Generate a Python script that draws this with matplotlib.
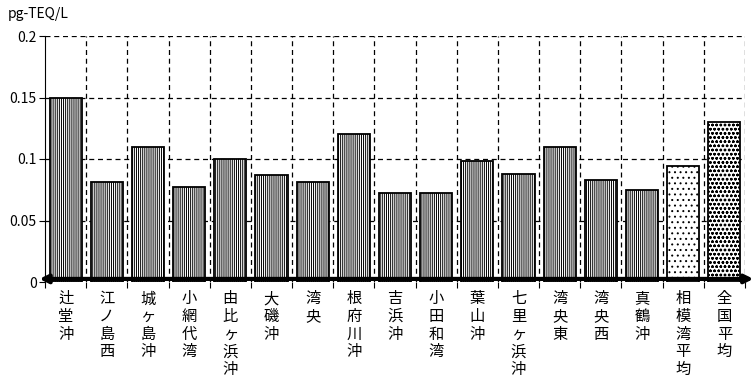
import matplotlib.pyplot as plt
import matplotlib as mpl

plt.rcParams['font.family'] = ['Noto Sans CJK JP', 'DejaVu Sans']
mpl.rcParams['hatch.linewidth'] = 0.7

# data
sites = ['辻堂沖', '江ノ島西', '城ヶ島沖', '小網代湾', '由比ヶ浜沖', '大磯沖', '湾央',
         '根府川沖', '吉浜沖', '小田和湾', '葉山沖', '七里ヶ浜沖', '湾央東', '湾央西',
         '真鶴沖', '相模湾平均', '全国平均']
values = [0.15, 0.081, 0.11, 0.077, 0.1, 0.087, 0.081, 0.12, 0.072, 0.072,
          0.098, 0.088, 0.11, 0.083, 0.075, 0.094, 0.13]
hatches = ['||||||||'] * 15 + ['...', 'oooo']

fig = plt.figure(figsize=(7.56, 3.78), dpi=100)
ax = fig.add_axes([45 / 756, 96 / 378, 700 / 756, 246 / 378])

x = list(range(len(sites)))
for i, (v, h) in enumerate(zip(values, hatches)):
    ax.bar(i, v, width=0.78, color='white', edgecolor='black', linewidth=1.3,
           hatch=h, zorder=2)

ax.set_xlim(-0.5, len(sites) - 0.5)
ax.set_ylim(0, 0.2)
ax.set_yticks([0, 0.05, 0.1, 0.15, 0.2])
ax.set_yticklabels(['0', '0.05', '0.1', '0.15', '0.2'], fontsize=10)

# dashed grid
for yv in [0.05, 0.1, 0.15, 0.2]:
    ax.axhline(yv, color='black', linestyle=(0, (4, 3)), linewidth=0.9, zorder=1)
for b in range(1, len(sites) + 1):
    ax.axvline(b - 0.5, color='black', linestyle=(0, (4, 3)), linewidth=0.9, zorder=1)

ax.set_xticks([b - 0.5 for b in range(len(sites) + 1)])
ax.set_xticklabels([])
ax.set_xticks(x, minor=True)
ax.set_xticklabels(['\n'.join(s) for s in sites], minor=True, fontsize=11,
                   va='top', linespacing=1.05)
ax.tick_params(axis='x', which='minor', length=0, pad=6)
ax.tick_params(axis='x', which='major', length=4, direction='out')
ax.tick_params(axis='y', length=4, direction='out', pad=2)

for side in ['top', 'right']:
    ax.spines[side].set_visible(False)
ax.spines['bottom'].set_visible(False)

ax.annotate('', xy=(1.016, 0.0025), xytext=(-0.012, 0.0025),
            xycoords=ax.get_yaxis_transform(), textcoords=ax.get_yaxis_transform(),
            arrowprops=dict(arrowstyle='<|-|>', color='black', lw=3,
                            mutation_scale=12),
            annotation_clip=False, zorder=5)

fig.text(8 / 756, 1 - 14 / 378, 'pg-TEQ/L', fontsize=10, va='center', ha='left')

fig.savefig('out.png', dpi=100)
